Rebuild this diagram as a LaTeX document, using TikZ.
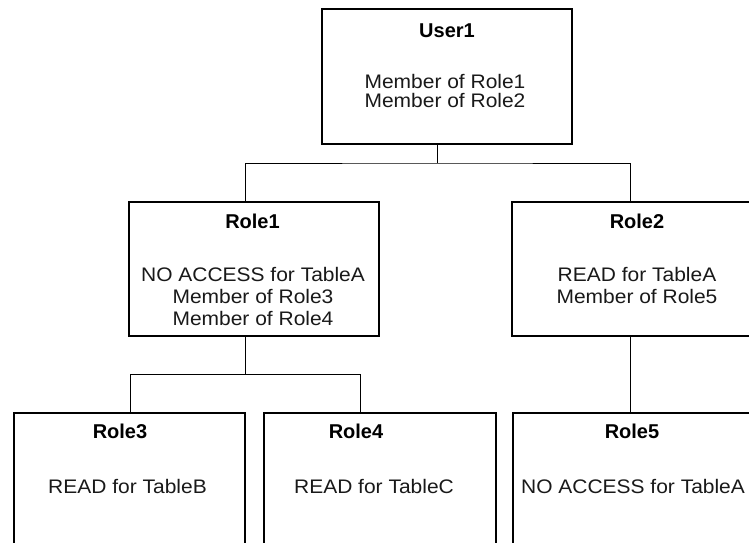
\documentclass[tikz,border=0pt]{standalone}
\usepackage{fontspec}
\setmainfont{Liberation Sans}
\newfontfamily\bodyfont[FakeStretch=1.07]{Liberation Sans}
\begin{document}
\begin{tikzpicture}[x=1pt,y=-1pt,
  box/.style={draw,line width=2pt,inner sep=0pt},
  conn/.style={draw,line width=1pt},
  ttl/.style={font=\fontsize{20}{24}\selectfont\bfseries,anchor=base,inner sep=0pt},
  body/.style={font=\bodyfont\fontsize{19.6}{24}\selectfont,anchor=base,inner sep=0pt,text=black!90}]
\useasboundingbox (0,0) rectangle (749,542);
\begin{scope}
\clip (0,0) rectangle (749,542);
% boxes
\node[box,minimum width=250pt,minimum height=134.7pt] (user1) at (447,76.65) {};
\node[box,minimum width=250pt,minimum height=134.3pt] (role1) at (254,268.85) {};
\node[box,minimum width=250pt,minimum height=134.3pt] (role2) at (637,268.85) {};
\node[box,minimum width=231.5pt,minimum height=160pt] (role3) at (129.25,492.7) {};
\node[box,minimum width=231.5pt,minimum height=160pt] (role4) at (379.75,492.7) {};
\node[box,minimum width=240pt,minimum height=160pt] (role5) at (633,492.7) {};
% texts
\node[ttl] (user1t) at (447,37) {User1};
\node[body] (user1a) at (445,88) {Member of Role1};
\node[body] (user1b) at (445,107.5) {Member of Role2};
\node[ttl] (role1t) at (252.5,228) {Role1};
\node[body] (role1a) at (253,281) {NO ACCESS for TableA};
\node[body] (role1b) at (253,303) {Member of Role3};
\node[body] (role1c) at (253,325) {Member of Role4};
\node[ttl] (role2t) at (637,228) {Role2};
\node[body] (role2a) at (637,281) {READ for TableA};
\node[body] (role2b) at (637,303) {Member of Role5};
\node[ttl] (role3t) at (120,438) {Role3};
\node[body] (role3a) at (127.5,493) {READ for TableB};
\node[ttl] (role4t) at (356,438) {Role4};
\node[body] (role4a) at (374,493) {READ for TableC};
\node[ttl] (role5t) at (632,438) {Role5};
\node[body] (role5a) at (633,493) {NO ACCESS for TableA};
% connector coordinates
\coordinate (c1) at (437,163);
\coordinate (c2) at (245.5,374);
\coordinate (r2x) at (630,0);
\coordinate (r3x) at (130,0);
\coordinate (r4x) at (360,0);
% connectors
\draw[conn] (c1 |- user1.south) -- (c1);
\draw[conn] (c2 |- role1.north) |- (c1) -| (r2x |- role2.north);
\draw[conn] (c2 |- role1.south) -- (c2);
\draw[conn] (r3x |- role3.north) |- (c2) -| (r4x |- role4.north);
\draw[conn] (r2x |- role2.south) -- (r2x |- role5.north);
\end{scope}
\end{tikzpicture}
\end{document}
